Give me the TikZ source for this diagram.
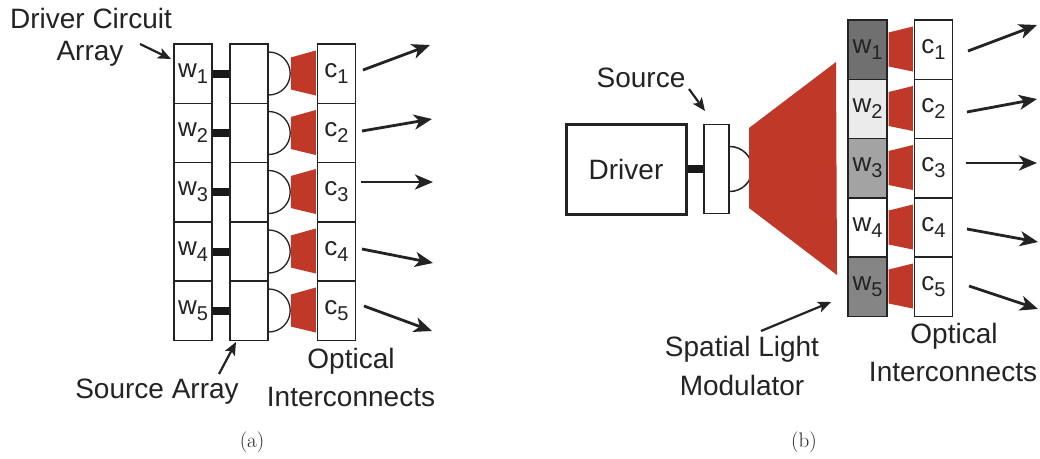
\documentclass[tikz,border=0pt]{standalone}
\usepackage{fontspec}
\newfontfamily\sansfam{Liberation Sans}
\usetikzlibrary{arrows.meta}
\definecolor{beam}{RGB}{192,56,40}
\definecolor{ink}{RGB}{35,35,35}
\newcommand{\lab}[2]{#1\raisebox{-6pt}{\fontsize{20}{20}\selectfont #2}}
\tikzset{
  x=1pt,y=-1pt,
  txt/.style={font=\sansfam\fontsize{28}{29}\selectfont,text=ink,inner sep=0pt,align=center},
  captxt/.style={font=\fontsize{21}{22}\selectfont,text=ink,inner sep=0pt},
  cell/.style={draw=ink,line width=1.4pt,fill=white,minimum width=38pt,minimum height=59.4pt,inner sep=0pt,font=\sansfam\fontsize{26}{27}\selectfont,text=ink},
  blank/.style={cell},
  bar/.style={line width=8pt,draw=black!90},
  bump/.style={draw=ink,line width=1.3pt},
  ray/.style={draw=ink,line width=2.8pt,-{Stealth[length=18pt,width=15pt,inset=5pt]}},
  call/.style={draw=ink,line width=2.2pt,-{Stealth[length=13pt,width=11pt,inset=3pt]}},
  beamfill/.style={fill=beam}
}
\begin{document}
\begin{tikzpicture}
\useasboundingbox (0,0) rectangle (1040,458);
\fill[white] (0,0) rectangle (1040,458);
% (a)
\foreach \i/\y in {1/73.5,2/133,3/192,4/251.5,5/310.5}{
  \node[cell] (aw\i) at (193,\y) {\lab{w}{\i}};
  \node[blank] (as\i) at (249,\y) {};
  \node[cell] (ac\i) at (336.5,\y) {\lab{c}{\i}};
  \draw[bar] (aw\i.east) -- (as\i.west);
  \draw[bump] ([yshift=21.5pt]as\i.east) arc[start angle=90,end angle=-90,radius=21.5pt];
  \fill[beamfill] ([shift={(-26,-16)}]ac\i.west) -- ([shift={(-1,-23)}]ac\i.west) -- ([shift={(-1,22)}]ac\i.west) -- ([shift={(-26,16)}]ac\i.west) -- cycle;
}
\coordinate (ar1s) at (363,70); \coordinate (ar1e) at (430,45);
\coordinate (ar2s) at (362,131); \coordinate (ar2e) at (432,119);
\coordinate (ar3s) at (361,182); \coordinate (ar3e) at (433,182);
\coordinate (ar4s) at (362,249); \coordinate (ar4e) at (433,263);
\coordinate (ar5s) at (364,306); \coordinate (ar5e) at (432,331);
\foreach \i in {1,...,5}{\draw[ray] (ar\i s) -- (ar\i e);}
\node[txt] (adc) at (91,18) {Driver Circuit};
\node[txt] (aar) at (90,54) {Array};
\node[txt] (asa) at (157,392) {Source Array};
\node[txt] (aop) at (351,361) {Optical};
\node[txt] (ain) at (351,397) {Interconnects};
\coordinate (aca) at (140,44); \coordinate (acb) at (171,59);
\draw[call] (aca) -- (acb);
\coordinate (asb) at (219,374); \coordinate (asc) at (236,342);
\draw[call] (asb) -- (asc);
\node[captxt] (capa) at (252,442) {(a)};
% (b)
\node[draw=ink,line width=3pt,minimum width=120pt,minimum height=90pt,inner sep=0pt,font=\sansfam\fontsize{28}{29}\selectfont,text=ink] (drv) at (626,169) {Driver};
\node[draw=ink,line width=1.5pt,fill=white,minimum width=25pt,minimum height=89pt,inner sep=0pt] (src) at (716.5,169) {};
\draw[bar] (drv.east) -- (src.west);
\draw[bump,line width=1.5pt] ([yshift=22.5pt]src.east) arc[start angle=90,end angle=-90,radius=22.5pt];
\fill[beamfill] (749,128) -- (836,62) -- (837,275) -- (749,208) -- cycle;
\foreach \i/\y/\g in {1/49.5/56,2/109/8,3/168/36,4/227.5/0,5/286.5/48}{
  \node[cell,fill=black!\g!white,minimum width=39pt] (bw\i) at (867.5,\y) {\lab{w}{\i}};
  \node[cell] (bc\i) at (933.5,\y) {\lab{c}{\i}};
  \fill[beamfill] ([shift={(1,-17)}]bw\i.east) -- ([shift={(-1,-23)}]bc\i.west) -- ([shift={(-1,22)}]bc\i.west) -- ([shift={(1,17)}]bw\i.east) -- cycle;
}
\coordinate (br1s) at (968,51); \coordinate (br1e) at (1037,25);
\coordinate (br2s) at (967,112); \coordinate (br2e) at (1037,99);
\coordinate (br3s) at (966,163); \coordinate (br3e) at (1037,163);
\coordinate (br4s) at (967,229); \coordinate (br4e) at (1038,242);
\coordinate (br5s) at (969,286); \coordinate (br5e) at (1038,309);
\foreach \i in {1,...,5}{\draw[ray] (br\i s) -- (br\i e);}
\node[txt] (bso) at (641,78) {Source};
\node[txt] (bsl) at (742,349) {Spatial Light};
\node[txt] (bmo) at (742,385) {Modulator};
\node[txt] (bop) at (954,336) {Optical};
\node[txt] (bin) at (953,372) {Interconnects};
\coordinate (bsa) at (689,89); \coordinate (bsb) at (705,111);
\draw[call] (bsa) -- (bsb);
\coordinate (bla) at (761,331); \coordinate (blb) at (831,302);
\draw[call] (bla) -- (blb);
\node[captxt] (capb) at (804,442) {(b)};
\end{tikzpicture}
\end{document}
